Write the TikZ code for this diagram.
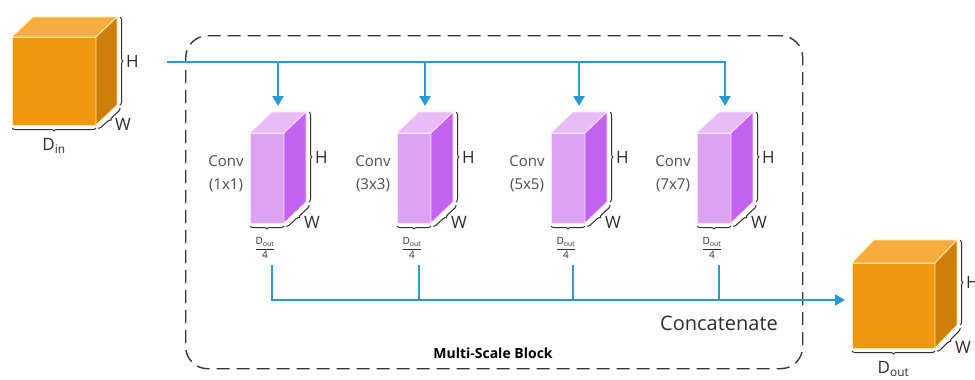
\documentclass[tikz,border=0pt]{standalone}
\usepackage{amsmath}
\usepackage{fontspec}
\setmainfont{Open Sans}
\usetikzlibrary{arrows.meta,calc,decorations.pathreplacing}

% palettes for the solids
\definecolor{orgfront}{RGB}{240,150,15}
\definecolor{orgtop}{RGB}{246,172,62}
\definecolor{orgside}{RGB}{206,126,10}
\definecolor{orgedge}{RGB}{255,232,175}
\definecolor{viofront}{RGB}{222,162,243}
\definecolor{viotop}{RGB}{234,188,247}
\definecolor{vioside}{RGB}{196,98,240}
\definecolor{vioedge}{RGB}{247,228,253}
\definecolor{flowblue}{RGB}{40,155,215}
\definecolor{inkgray}{RGB}{45,45,45}
\definecolor{dashgray}{RGB}{55,55,55}

% a box seen in oblique view: name, x, y, width, height, depth dx, depth dy, palette
\newcommand\prism[8]{%
  \node[solidface, fill=#8front, draw=#8edge, minimum width=#4pt, minimum height=#5pt,
        anchor=north west] (#1) at (#2,#3) {};
  \filldraw[fill=#8top, draw=#8edge, solidedge]
    (#1.north west) -- ++(#6,-#7) -- ++(#4,0) -- (#1.north east) -- cycle;
  \filldraw[fill=#8side, draw=#8edge, solidedge]
    (#1.north east) -- ++(#6,-#7) -- ++(0,#5) -- (#1.south east) -- cycle;
}

% H, W and depth braces around a box: name, dx, dy
\newcommand\sizebraces[3]{%
  \draw[dimbrace] ($(#1.north east)+(#2+3,-#3)$) -- ($(#1.south east)+(#2+3,-#3)$);
  \draw[dimbrace] ($(#1.south east)+(#2+3,-#3+3)$) -- ($(#1.south east)+(2,3)$);
  \draw[dimbrace] ($(#1.south east)+(0,3)$) -- ($(#1.south west)+(0,3)$);
  \node[dimlabel, anchor=west] (#1H) at ($(#1.east)+(#2+9,-#3)$) {H};
  \node[dimlabel] (#1W) at ($(#1.south east)+(#2+6,-1)$) {W};
}

\begin{document}
\begin{tikzpicture}[x=1pt,y=-1pt,
  solidface/.style={line width=0.8pt, inner sep=0pt, outer sep=0pt},
  solidedge/.style={line width=0.8pt, line join=round},
  dimbrace/.style={draw=inkgray, line width=1pt,
    decorate, decoration={brace, amplitude=3pt}},
  dimlabel/.style={text=inkgray, font=\fontsize{17}{18}\selectfont, inner sep=0pt},
  convlabel/.style={text=inkgray!85, font=\fontsize{15}{23}\selectfont, align=center, inner sep=0pt},
  fraclabel/.style={text=inkgray, font=\fontsize{10}{11}\selectfont, inner sep=0pt},
  flow/.style={draw=flowblue, line width=2.6pt},
  flowarrow/.style={flow, -{Triangle[length=10pt,width=11pt]}},
  groupbox/.style={draw=dashgray, line width=1.4pt, dash pattern=on 13pt off 7pt,
    rounded corners=22pt, inner sep=0pt},
]
\useasboundingbox (0,0) rectangle (975,380);

% multi-scale block frame
\node[groupbox, minimum width=617pt, minimum height=333pt, anchor=north west] (msb) at (185,35) {};
\node[text=black, font=\bfseries\fontsize{14}{15}\selectfont] (msbname) at (493,353) {Multi-Scale Block};

% input tensor
\prism{in}{12}{37}{84}{88}{21}{20}{org}
\sizebraces{in}{21}{20}
\node[dimlabel] (din) at ($(in.south)+(0,21)$) {D\textsubscript{in}};

% four parallel convolution branches
\prism{b1}{250}{133}{34}{90}{22}{21}{vio}
\prism{b2}{397}{133}{34}{90}{22}{21}{vio}
\prism{b3}{551}{133}{34}{90}{22}{21}{vio}
\prism{b4}{697}{133}{34}{90}{22}{21}{vio}
\foreach \k/\ks in {1/1x1,2/3x3,3/5x5,4/7x7}{
  \sizebraces{b\k}{22}{21}
  \node[convlabel] (conv\k) at ($(b\k.west)+(-24,-4)$) {Conv\\(\ks)};
  \node[fraclabel] (frac\k) at ($(b\k.south west)+(15,25)$) {$\dfrac{\text{D}_{\text{out}}}{\text{4}}$};
  \coordinate (b\k in) at ($(b\k.north west)+(28,-27)$);
  \coordinate (b\k out) at ($(b\k.south west)+(22,42)$);
}

% output tensor
\prism{out}{852}{263}{83}{85}{22}{23}{org}
\sizebraces{out}{22}{23}
\node[dimlabel] (dout) at ($(out.south)+(0,21)$) {D\textsubscript{out}};

% split: input fanned out to every branch
\coordinate (src) at (167,62);
\draw[flowarrow] (src) -| (b4in);
\foreach \k in {1,2,3}{
  \draw[flowarrow] (b\k in |- src) -- (b\k in);
}

% concatenation of the branch outputs
\coordinate (bus) at (0,300);
\draw[flowarrow] (b1out) |- ($(bus -| out.west)+(-7,0)$);
\foreach \k in {2,3,4}{
  \draw[flow] (b\k out) -- (b\k out |- bus);
}
\node[text=inkgray, font=\fontsize{20}{22}\selectfont] (concat) at (719,323) {Concatenate};
\end{tikzpicture}
\end{document}
